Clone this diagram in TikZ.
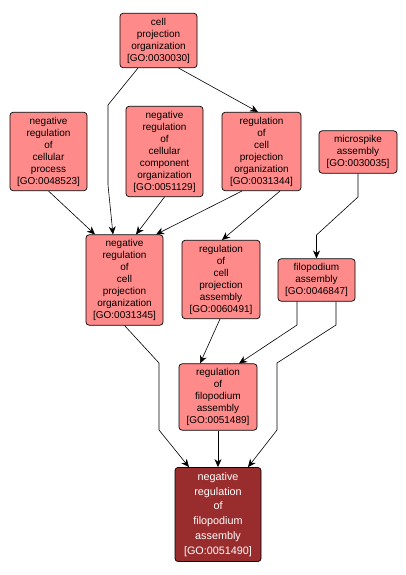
\documentclass[tikz,border=0pt]{standalone}
\usepackage{fontspec}
\setmainfont{Liberation Sans}
\usepackage{tikz}
\usetikzlibrary{
  arrows.meta,
  positioning,
  calc
}
\usepackage{xcolor}
\definecolor{golight}{RGB}{255,138,138}
\definecolor{godark}{RGB}{153,45,45}

\begin{document}
\begin{tikzpicture}[x=1pt,y=-1pt,
			bx/.style={draw, rounded corners=3pt, fill=golight, align=center,
				inner xsep=3pt, inner ysep=4.5pt, minimum width=77pt, line width=0.7pt,
				font=\fontsize{10}{12}\selectfont},
			hl/.style={bx, fill=godark, text=white, minimum width=86pt, inner ysep=5pt,
				font=\fontsize{10.8}{14.8}\selectfont},
			ed/.style={-{Stealth[length=8pt,width=7pt,inset=2.5pt]}, line width=0.6pt}
			]
			\useasboundingbox (0,0) rectangle (406,575);
			\node[bx] (cpo)   at (158.5, 40.5) {cell\\ projection\\ organization\\ {[GO:0030030]}};
			\node[bx] (nrcp)  at (48.5, 151.5) {negative\\ regulation\\ of\\ cellular\\ process\\ {[GO:0048523]}};
			\node[bx] (nrcco) at (164.5, 151.5) {negative\\ regulation\\ of\\ cellular\\ component\\ organization\\ {[GO:0051129]}};
			\node[bx, minimum width=79pt] (rcpo) at (261.5, 151.5) {regulation\\ of\\ cell\\ projection\\ organization\\ {[GO:0031344]}};
			\node[bx, minimum width=78pt] (msa)  at (358, 152) {microspike\\ assembly\\ {[GO:0030035]}};
			\node[bx] (nrcpo) at (124.5, 280) {negative\\ regulation\\ of\\ cell\\ projection\\ organization\\ {[GO:0031345]}};
			\node[bx, minimum width=78pt] (rcpa) at (221, 279.5) {regulation\\ of\\ cell\\ projection\\ assembly\\ {[GO:0060491]}};
			\node[bx] (fa)    at (316.5, 280) {filopodium\\ assembly\\ {[GO:0046847]}};
			\node[bx, minimum width=78pt] (rfa)  at (218, 397) {regulation\\ of\\ filopodium\\ assembly\\ {[GO:0051489]}};
			\node[hl] (nrfa)  at (218, 514.5) {negative\\ regulation\\ of\\ filopodium\\ assembly\\ {[GO:0051490]}};
			% edges into nrcpo
			\draw[ed] ([xshift=-20.5pt]cpo.south) -- (108,105) -- (108,185) -- ([xshift=-11.5pt]nrcpo.north);
			\draw[ed] ([xshift=20pt]cpo.south) -- ([xshift=-3.5pt]rcpo.north);
			\draw[ed] (nrcp.south) -- ([xshift=-29.5pt]nrcpo.north);
			\draw[ed] (nrcco.south) -- ([xshift=11.5pt]nrcpo.north);
			\draw[ed] ([xshift=-19.5pt]rcpo.south) -- ([xshift=31.5pt]nrcpo.north);
			\draw[ed] ([xshift=18.5pt]rcpo.south) -- ([xshift=1pt]rcpa.north);
			\draw[ed] (msa.south) -- (358,197) -- (316.5,235) -- (fa.north);
			% edges into rfa and nrfa
			\draw[ed] ([xshift=-19.5pt]fa.south) -- (297,325) -- ([xshift=21pt]rfa.north);
			\draw[ed] ([xshift=-1pt]rcpa.south) -- ([xshift=-18pt]rfa.north);
			\draw[ed] ([xshift=19.5pt]fa.south) -- (336,325) -- (277,363) -- (277,430) -- ([xshift=30pt]nrfa.north);
			\draw[ed] (rfa.south) -- (nrfa.north);
			\draw[ed] (nrcpo.south) -- (159,363) -- (159,430) -- ([xshift=-29pt]nrfa.north);
	\end{tikzpicture}
\end{document}
